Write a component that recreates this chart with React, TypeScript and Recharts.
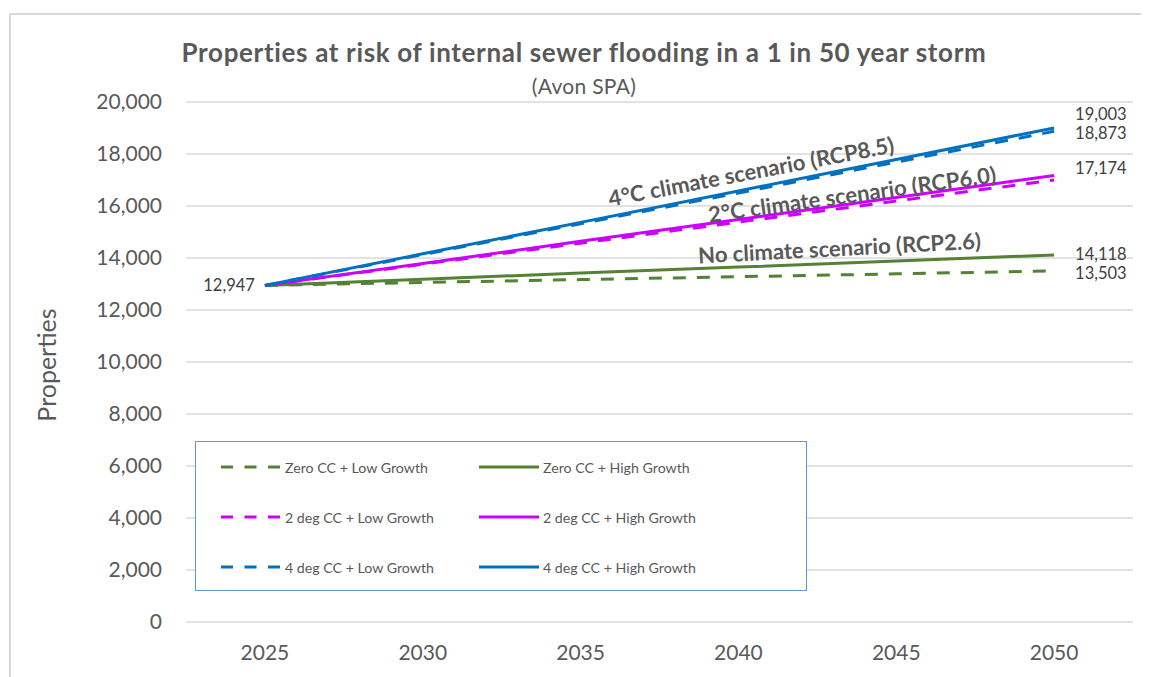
import React from 'react';
import { LineChart, Line, XAxis, YAxis, CartesianGrid, ReferenceDot } from 'recharts';

const years = [2025, 2030, 2035, 2040, 2045, 2050];
const zeroLow = [12947, 13060, 13170, 13280, 13390, 13503];
const zeroHigh = [12947, 13180, 13420, 13650, 13880, 14118];
const twoLow = [12947, 13760, 14570, 15380, 16190, 17000];
const twoHigh = [12947, 13790, 14640, 15480, 16330, 17174];
const fourLow = [12947, 14130, 15320, 16500, 17690, 18873];
const fourHigh = [12947, 14160, 15370, 16580, 17790, 19003];
const yTicks = [0, 2000, 4000, 6000, 8000, 10000, 12000, 14000, 16000, 18000, 20000];

const seriesList = [
  { key: 'zeroLow', name: 'Zero CC + Low Growth', values: zeroLow, color: '#548235', dashed: true, endLabel: true, dy: 2 },
  { key: 'zeroHigh', name: 'Zero CC + High Growth', values: zeroHigh, color: '#548235', dashed: false, endLabel: true, dy: -1 },
  { key: 'twoLow', name: '2 deg CC + Low Growth', values: twoLow, color: '#cc00ff', dashed: true, endLabel: false, dy: 0 },
  { key: 'twoHigh', name: '2 deg CC + High Growth', values: twoHigh, color: '#cc00ff', dashed: false, endLabel: true, dy: -7 },
  { key: 'fourLow', name: '4 deg CC + Low Growth', values: fourLow, color: '#0070c0', dashed: true, endLabel: true, dy: 2 },
  { key: 'fourHigh', name: '4 deg CC + High Growth', values: fourHigh, color: '#0070c0', dashed: false, endLabel: true, dy: -14 },
];

const annotations = [
  { text: '4°C climate scenario (RCP8.5)', year: 2040.4, value: 17340, angle: -10.8 },
  { text: '2°C climate scenario (RCP6.0)', year: 2043.6, value: 16460, angle: -8 },
  { text: 'No climate scenario (RCP2.6)', year: 2043.2, value: 14400, angle: -3 },
];

const data = years.map((year, i) => {
  const row: any = { year };
  seriesList.forEach((s) => {
    row[s.key] = s.values[i];
  });
  return row;
});

const FONT = 'Lato, "Open Sans", sans-serif';
const fmt = (v: number) => v.toLocaleString('en-US');

export default function App() {
  const W = 1141;
  const H = 669;
  return (
    <div style={{ position: 'relative', width: W, height: H, overflow: 'hidden', fontFamily: FONT, background: '#fff' }}>
      <div style={{ position: 'absolute', left: 1, top: 5, width: 3000, height: 3000, border: '2px solid #d9d9d9', boxSizing: 'border-box' }} />
      <LineChart width={W} height={H} data={data} margin={{ top: 94, right: 16, left: 0, bottom: 15 }} style={{ position: 'absolute', left: 0, top: 0 }}>
        <CartesianGrid vertical={false} stroke="#d9d9d9" strokeWidth={1.3} />
        <XAxis
          dataKey="year"
          type="number"
          domain={[2022.5, 2052.5]}
          ticks={years}
          axisLine={false}
          tickLine={false}
          height={40}
          tickMargin={17}
          tick={{ fill: '#595959', fontSize: 21, fontFamily: FONT }}
        />
        <YAxis
          domain={[0, 20000]}
          ticks={yTicks}
          width={178}
          axisLine={false}
          tickLine={false}
          tickMargin={18}
          tickFormatter={fmt}
          tick={{ fill: '#595959', fontSize: 21, fontFamily: FONT }}
          label={{
            content: (p: any) => {
              const vb = p.viewBox || { x: 0, y: 94, width: 178, height: 520 };
              const cx = vb.x + 38;
              const cy = vb.y + vb.height / 2 + 3;
              return (
                <text x={cx} y={cy} transform={`rotate(-90, ${cx}, ${cy})`} textAnchor="middle" dominantBaseline="central" fill="#595959" fontSize={25} fontFamily={FONT}>
                  Properties
                </text>
              );
            },
          }}
        />
        {seriesList.map((s) => (
          <Line
            key={s.key}
            dataKey={s.key}
            name={s.name}
            stroke={s.color}
            strokeWidth={3}
            strokeDasharray={s.dashed ? '13 11' : undefined}
            dot={false}
            activeDot={false}
            isAnimationActive={false}
            label={(p: any) => {
              const { x, y, index, value } = p;
              if (index === years.length - 1 && s.endLabel) {
                return (
                  <text key={`l-${s.key}-${index}`} x={x + 21} y={y + s.dy} dominantBaseline="central" fill="#404040" fontSize={16.5} fontFamily={FONT}>
                    {fmt(value)}
                  </text>
                );
              }
              if (index === 0 && s.key === 'fourHigh') {
                return (
                  <text key={`l-${s.key}-${index}`} x={x - 10} y={y} textAnchor="end" dominantBaseline="central" fill="#404040" fontSize={16.5} fontFamily={FONT}>
                    {fmt(value)}
                  </text>
                );
              }
              return <g key={`l-${s.key}-${index}`} />;
            }}
          />
        ))}
        {annotations.map((a) => (
          <ReferenceDot
            key={a.text}
            x={a.year}
            y={a.value}
            r={0}
            shape={(p: any) => (
              <text
                x={p.cx}
                y={p.cy}
                transform={`rotate(${a.angle}, ${p.cx}, ${p.cy})`}
                textAnchor="middle"
                dominantBaseline="central"
                fill="#595959"
                fontSize={22}
                fontWeight="bold"
                fontFamily={FONT}
              >
                {a.text}
              </text>
            )}
          />
        ))}
      </LineChart>
      <div style={{ position: 'absolute', left: 0, width: 1152, top: 29, textAlign: 'center', fontSize: 26, letterSpacing: 0.65, fontWeight: 'bold', color: '#595959', lineHeight: '30px' }}>
        Properties at risk of internal sewer flooding in a 1 in 50 year storm
      </div>
      <div style={{ position: 'absolute', left: 0, width: 1152, top: 66, textAlign: 'center', fontSize: 21, letterSpacing: 0.3, color: '#595959', lineHeight: '24px' }}>
        (Avon SPA)
      </div>
      <div style={{ position: 'absolute', left: 187, top: 433, width: 612, height: 150, border: '1.5px solid #5b9bd5', boxSizing: 'border-box', background: '#fff' }}>
        {seriesList.map((s, i) => {
          const col = i % 2;
          const row = Math.floor(i / 2);
          const left = col === 0 ? 24 : 282;
          const top = 25 + row * 50;
          return (
            <div key={s.key} style={{ position: 'absolute', left, top: top - 12, height: 24, display: 'flex', alignItems: 'center' }}>
              <svg width={62} height={24} style={{ display: 'block' }}>
                <line x1={1} y1={12} x2={61} y2={12} stroke={s.color} strokeWidth={3} strokeDasharray={s.dashed ? '12 11.5' : undefined} />
              </svg>
              <span style={{ marginLeft: 3, fontSize: 14.2, color: '#595959', whiteSpace: 'nowrap' }}>{s.name}</span>
            </div>
          );
        })}
      </div>
    </div>
  );
}
